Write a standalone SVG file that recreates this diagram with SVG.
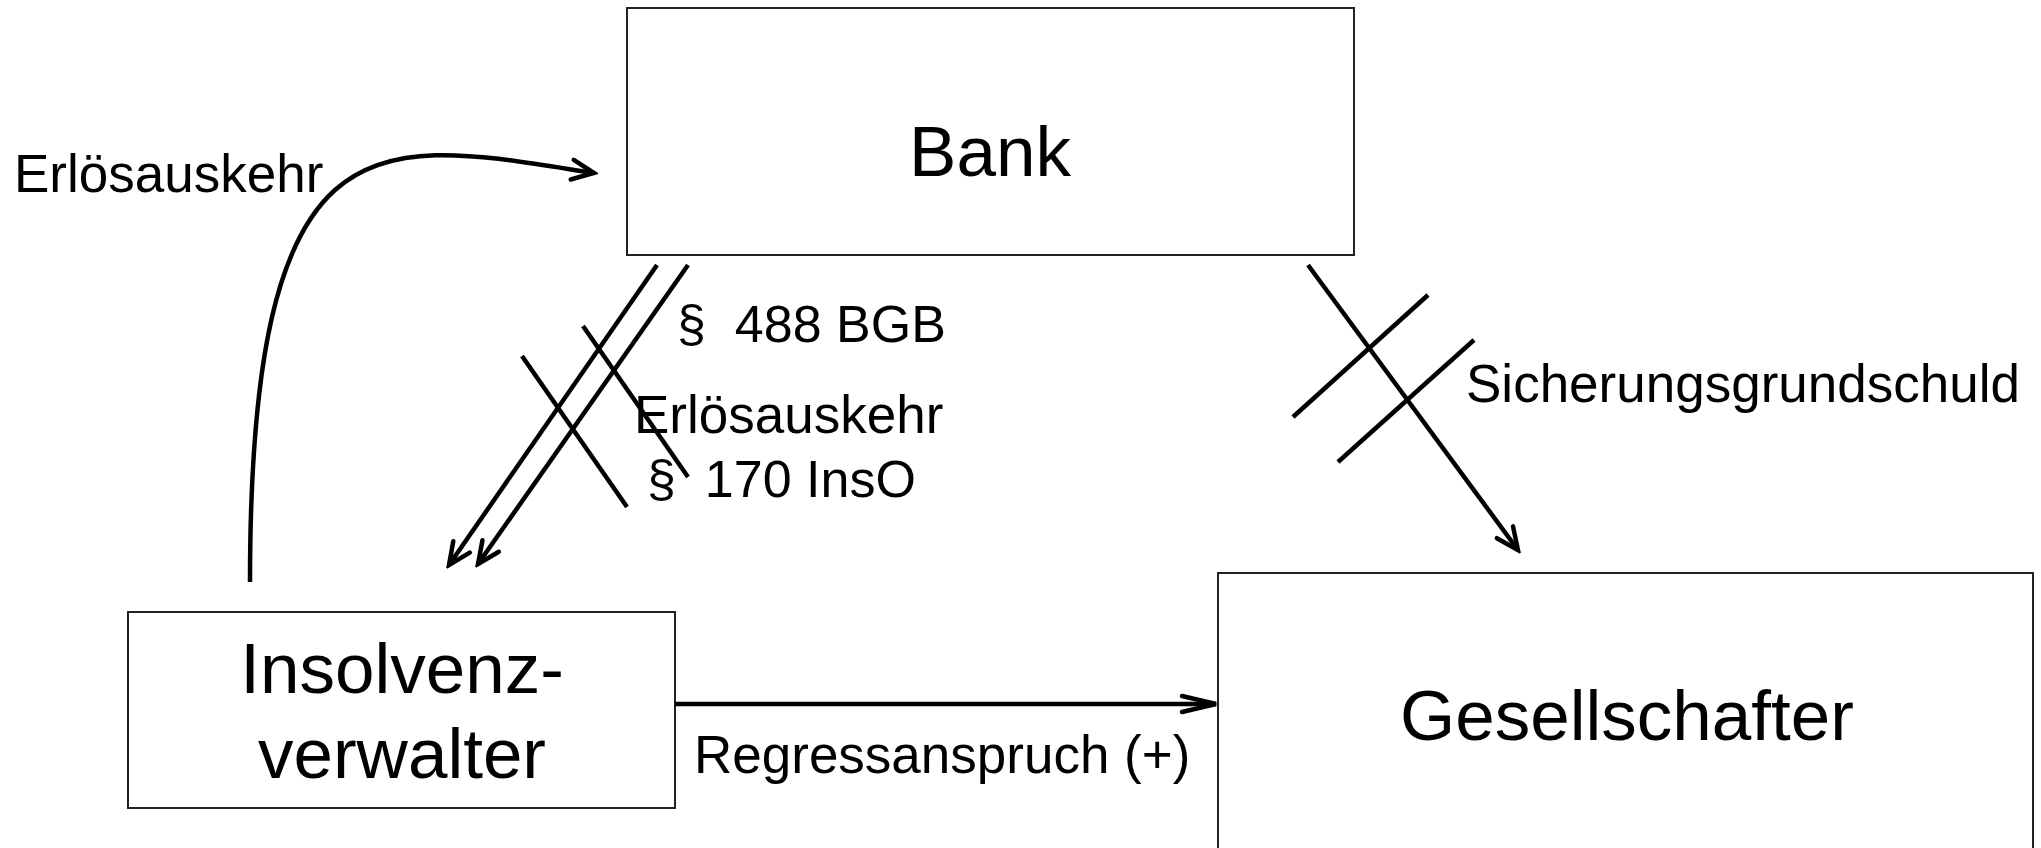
<svg xmlns="http://www.w3.org/2000/svg" width="2041" height="848" viewBox="0 0 2041 848">
  <style>
    .box { fill: #ffffff; stroke: #222222; stroke-width: 2; }
    .node { font-family: "Liberation Sans", Arial, sans-serif; font-size: 71px; fill: #000000; text-anchor: middle; }
    .lbl { font-family: "Liberation Sans", Arial, sans-serif; font-size: 53px; fill: #000000; }
    .lbl52 { font-family: "Liberation Sans", Arial, sans-serif; font-size: 52px; fill: #000000; }
    .edge { fill: none; stroke: #000000; stroke-width: 4.5; }
    .cross { fill: none; stroke: #000000; stroke-width: 4.5; }
  </style>
  <defs>
    <marker id="arrow" markerUnits="userSpaceOnUse" viewBox="-26 -14 30 28" refX="0" refY="0" markerWidth="30" markerHeight="28" orient="auto">
      <path d="M -22 -10 L 0 0 L -22 10" fill="none" stroke="#000000" stroke-width="4.5" stroke-linecap="round" stroke-linejoin="miter"/>
    </marker>
    <marker id="arrowFlat" markerUnits="userSpaceOnUse" viewBox="-38 -12 42 24" refX="0" refY="0" markerWidth="42" markerHeight="24" orient="auto">
      <path d="M -34 -8 L 0 0 L -34 8" fill="none" stroke="#000000" stroke-width="4.5" stroke-linecap="round" stroke-linejoin="miter"/>
    </marker>
  </defs>
  <rect width="2041" height="848" fill="#ffffff"/>

  <g id="node-bank">
    <rect class="box" x="627" y="8" width="727" height="247"/>
    <text class="node" x="990" y="176">Bank</text>
  </g>

  <g id="node-insolvenzverwalter">
    <rect class="box" x="128" y="612" width="547" height="196"/>
    <text class="node" x="402" y="693">Insolvenz-</text>
    <text class="node" x="402" y="778">verwalter</text>
  </g>

  <g id="node-gesellschafter">
    <rect class="box" x="1218" y="573" width="815" height="320"/>
    <text class="node" x="1627" y="740">Gesellschafter</text>
  </g>

  <g id="connectors">
    <!-- Erlösauskehr curve from Insolvenzverwalter to Bank -->
    <path class="edge" d="M 250 582 C 250 100 380 140 594 173" marker-end="url(#arrow)"/>
    <!-- Two parallel arrows from Bank to Insolvenzverwalter -->
    <line class="edge" x1="657" y1="265" x2="449" y2="565" marker-end="url(#arrow)"/>
    <line class="edge" x1="688" y1="265" x2="478" y2="564" marker-end="url(#arrow)"/>
    <!-- Strike-through lines -->
    <line class="cross" x1="522" y1="356" x2="627" y2="507"/>
    <line class="cross" x1="583" y1="326" x2="688" y2="477"/>
    <!-- Bank to Gesellschafter -->
    <line class="edge" x1="1308" y1="265" x2="1518" y2="550" marker-end="url(#arrow)"/>
    <line class="cross" x1="1428" y1="295" x2="1293" y2="417"/>
    <line class="cross" x1="1474" y1="340" x2="1338" y2="462"/>
    <!-- Regressanspruch -->
    <line class="edge" x1="675" y1="704" x2="1216" y2="704" stroke-width="5" marker-end="url(#arrowFlat)"/>
  </g>

  <g id="labels">
    <text class="lbl" x="14" y="192">Erlösauskehr</text>
    <text class="lbl52" x="677" y="342" xml:space="preserve">§  488 BGB</text>
    <text class="lbl" x="634" y="433">Erlösauskehr</text>
    <text class="lbl52" x="647" y="497" xml:space="preserve">§  170 InsO</text>
    <text class="lbl" x="1466" y="402">Sicherungsgrundschuld</text>
    <text class="lbl" x="694" y="773">Regressanspruch (+)</text>
  </g>
</svg>
